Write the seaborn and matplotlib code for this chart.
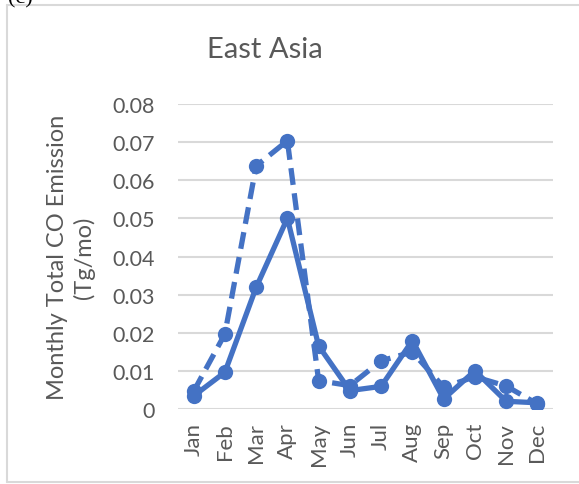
import matplotlib
matplotlib.use("Agg")
import matplotlib.pyplot as plt
from matplotlib.lines import Line2D
import seaborn as sns
import pandas as pd

months = ["Jan", "Feb", "Mar", "Apr", "May", "Jun",
          "Jul", "Aug", "Sep", "Oct", "Nov", "Dec"]
solid_values = [0.0035, 0.0097, 0.0319, 0.0500, 0.0166, 0.0049,
                0.0060, 0.0180, 0.0027, 0.0101, 0.0021, 0.0017]
dashed_values = [0.0047, 0.0197, 0.0637, 0.0703, 0.0075, 0.0062,
                 0.0127, 0.0150, 0.0058, 0.0085, 0.0061, 0.0014]
y_ticks = [0, 0.01, 0.02, 0.03, 0.04, 0.05, 0.06, 0.07, 0.08]
y_tick_labels = ["0", "0.01", "0.02", "0.03", "0.04", "0.05", "0.06", "0.07", "0.08"]

sns.set_theme(style="white")
plt.rcParams["font.family"] = ["Lato", "DejaVu Sans"]

text_gray = "#595959"
line_blue = "#4472C4"
grid_gray = "#D9D9D9"

df = pd.DataFrame({
    "month": months * 2,
    "x": list(range(len(months))) * 2,
    "value": solid_values + dashed_values,
    "series": ["solid"] * len(months) + ["dashed"] * len(months),
})

fig = plt.figure(figsize=(5.79, 4.85), dpi=100)
ax = fig.add_axes([178 / 579, 1 - 410.3 / 485, 375 / 579, 305.6 / 485])

for ytk in y_ticks:
    ax.axhline(ytk, color=grid_gray, lw=1.5, zorder=0)

sns.lineplot(data=df, x="x", y="value", style="series",
             style_order=["solid", "dashed"],
             dashes={"solid": "", "dashed": (3.2, 1.6)},
             color=line_blue, linewidth=3.8, marker="o", markersize=11,
             markeredgewidth=0, legend=False, ax=ax, sort=False,
             estimator=None)

ax.set_xlim(-0.5, 11.5)
ax.set_ylim(0, 0.08)
ax.set_yticks(y_ticks)
ax.set_yticklabels(y_tick_labels, fontsize=15.5, color=text_gray)
ax.set_xticks(range(len(months)))
ax.set_xticklabels(months, rotation=90, fontsize=16, color=text_gray)
ax.tick_params(axis="y", length=0, pad=17)
ax.tick_params(axis="x", length=0, pad=9)
ax.set_xlabel("")
ax.set_ylabel("Monthly Total CO Emission\n(Tg/mo)", fontsize=17,
              color=text_gray, labelpad=12, linespacing=1.3)
for sp in ax.spines.values():
    sp.set_visible(False)
ax.set_facecolor("none")

fig.text(265 / 579, 1 - 50 / 485, "East Asia", ha="center", va="center",
         fontsize=21, color=text_gray)

# outer frame of the chart area
frame_kw = dict(color=grid_gray, lw=1.5, transform=fig.transFigure)
fig.add_artist(Line2D([7 / 579, 7 / 579], [1 - 6 / 485, 1 - 483 / 485], **frame_kw))
fig.add_artist(Line2D([7 / 579, 1.0], [1 - 6 / 485, 1 - 6 / 485], **frame_kw))
fig.add_artist(Line2D([7 / 579, 1.0], [1 - 483 / 485, 1 - 483 / 485], **frame_kw))

fig.text(8 / 579, 1 - 3 / 485, "(c)", ha="left", va="baseline",
         fontsize=16, color="black", family=["Liberation Serif"])

fig.savefig("out.png", dpi=100)
